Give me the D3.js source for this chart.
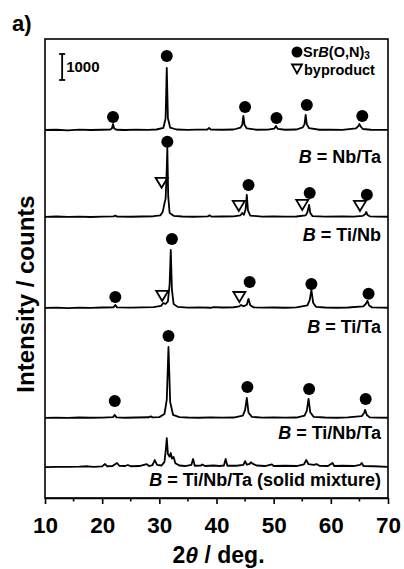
<!DOCTYPE html>
<html>
<head>
<meta charset="utf-8">
<script src="https://cdn.jsdelivr.net/npm/d3@7"></script>
<style>
  body { margin: 0; background: #fff; }
  svg { display: block; font-family: "Liberation Sans", Arial, sans-serif; font-weight: bold; }
</style>
</head>
<body>
<svg id="chart" width="404" height="569"></svg>
<script>
// XRD patterns, [2theta, counts above the pattern's own baseline]
const traceNbTa = [
  [10,0],[12,10],[14,-10],[16,15],[18,0],[20,10],[21.4,20],[21.7,60],[21.9,230],[22.1,60],[22.5,10],
  [24,0],[26,15],[28,5],[29.5,20],[30.7,80],[31.1,450],[31.3,2390],[31.5,450],[31.9,90],[33,20],
  [35,5],[36.5,15],[38.4,20],[38.7,80],[39.0,15],[41,10],[43,20],[44.2,90],[44.5,200],[44.7,540],
  [44.9,200],[45.3,60],[47,10],[49,15],[50.1,50],[50.4,155],[50.7,45],[52,10],[54,20],[55.1,100],
  [55.4,230],[55.6,580],[55.8,220],[56.2,70],[58,10],[60,15],[62,5],[64.4,60],[64.8,150],[65.0,230],
  [65.2,140],[65.6,40],[67,10],[70,5]
];
const traceTiNb = [
  [10,0],[12,15],[14,0],[16,10],[18,-5],[20,10],[22,20],[22.3,50],[22.6,10],[25,5],[27,15],[29,25],
  [30.2,60],[30.6,200],[30.9,520],[31.1,700],[31.25,1500],[31.4,2650],[31.55,800],[31.8,150],[32.5,40],
  [34,15],[36,5],[38.5,20],[38.8,60],[39.1,10],[41,15],[43,20],[44.2,60],[44.5,150],[44.8,80],
  [45.1,300],[45.3,850],[45.5,250],[45.9,50],[48,10],[50,20],[52,10],[54,15],[55.6,60],[55.9,180],
  [56.2,460],[56.4,150],[56.8,30],[59,10],[62,15],[64,10],[65.6,40],[66.0,100],[66.2,190],[66.4,80],
  [66.8,20],[68,10],[70,5]
];
const traceTiTa = [
  [10,0],[12,10],[14,-5],[16,10],[18,0],[20,15],[22.0,25],[22.3,115],[22.6,20],[25,10],[27,20],[29,30],
  [30.3,80],[30.7,190],[31.1,150],[31.5,250],[31.8,900],[32.0,2230],[32.2,700],[32.5,150],[33.2,40],
  [35,10],[37,20],[39,5],[39.5,30],[41,15],[43,25],[44.0,60],[44.3,110],[44.7,60],[45.3,120],
  [45.6,350],[45.9,100],[46.5,20],[48,10],[50,15],[52,5],[54,20],[55.9,100],[56.3,300],[56.6,690],
  [56.9,200],[57.4,40],[59,15],[61,5],[63,15],[65.7,60],[66.1,150],[66.4,270],[66.7,90],[67.2,20],
  [69,10],[70,5]
];
const traceTiNbTa = [
  [10,0],[12,10],[14,0],[16,15],[18,5],[20,10],[21.9,30],[22.2,115],[22.5,20],[24,5],[26,15],
  [28.2,25],[28.5,60],[28.8,20],[30,30],[30.9,150],[31.3,700],[31.6,2730],[31.9,600],[32.4,120],
  [33.5,30],[35,15],[37,5],[39,20],[41,10],[43,15],[44.6,90],[45.0,300],[45.3,770],[45.6,200],
  [46.2,40],[48,10],[50,20],[52,10],[54,15],[55.4,90],[55.8,280],[56.1,730],[56.4,220],[57.0,40],
  [59,15],[61,5],[63,20],[65.4,70],[65.8,180],[66.0,310],[66.3,110],[66.8,20],[68,10],[70,5]
];
const traceMixture = [
  [10,0],[12,10],[14,5],[16,15],[17.5,30],[18.5,10],[20,25],[20.5,115],[20.9,30],[21.8,40],[22.6,155],
  [23.0,50],[24,40],[24.5,80],[25,30],[26.5,40],[27.8,115],[28.2,40],[28.8,70],[29.2,270],[29.6,80],
  [30.4,60],[30.9,200],[31.15,700],[31.3,1115],[31.5,500],[31.8,400],[32.0,540],[32.2,330],[32.5,385],
  [32.8,150],[33.5,60],[34.5,40],[35.6,80],[35.9,310],[36.2,50],[37.3,60],[37.5,100],[38,40],[39.5,60],
  [40.5,40],[41.3,60],[41.6,310],[41.9,50],[43.5,50],[44.7,80],[45.0,230],[45.3,90],[45.8,120],
  [46.0,190],[46.3,130],[47,60],[48.5,40],[49.7,100],[50,40],[52,50],[54,40],[55.3,100],[55.7,270],
  [56.1,110],[57.0,80],[57.5,115],[58,50],[59.5,40],[60.3,155],[60.6,40],[62,50],[64,40],[65.1,80],
  [65.4,155],[65.7,40],[67.5,30],[70,10]
];

// vertical offset (counts) of each pattern's baseline
const traceOffsets = [14150, 10810, 7310, 3080, 1190];
const traceNames = ["Nb/Ta", "Ti/Nb", "Ti/Ta", "Ti/Nb/Ta", "Ti/Nb/Ta (solid mixture)"];

// peak markers [2theta, counts above baseline]
const dotsNbTa = [[21.9,500],[31.3,2850],[45.0,885],[50.5,460],[55.8,960],[65.5,540]];
const dotsTiNb = [[31.4,2890],[45.6,1230],[56.3,920],[66.3,850]];
const triTiNb = [[30.4,1310],[43.9,420],[55.0,460],[65.1,420]];
const dotsTiTa = [[22.3,420],[32.2,2650],[45.8,1000],[56.6,920],[66.6,540]];
const triTiTa = [[30.5,460],[44.0,420]];
const dotsTiNbTa = [[22.2,650],[31.6,3150],[45.4,1190],[56.2,1115],[66.1,730]];

const xTicks = [10, 20, 30, 40, 50, 60, 70];
const xMinorTicks = [15, 25, 35, 45, 55, 65];
const scaleBarCounts = 1000;

const traces = [traceNbTa, traceTiNb, traceTiTa, traceTiNbTa, traceMixture];
const dotSets = [dotsNbTa, dotsTiNb, dotsTiTa, dotsTiNbTa, []];
const triSets = [[], triTiNb, triTiTa, [], []];

// layout
const margin = { top: 39, right: 16, bottom: 71, left: 45 };
const W = 404, H = 569;
const labelDy = [33, 24, 25, 21, 19];

const svg = d3.select("#chart");

const x = d3.scaleLinear().domain([10, 70]).range([margin.left, W - margin.right]);
const y = d3.scaleLinear().domain([0, 17650]).range([H - margin.bottom, margin.top]);

const line = d3.line()
  .x(d => x(d[0]))
  .y(d => d[1]);

// patterns
traces.forEach((t, i) => {
  svg.append("path")
    .attr("d", line(t.map(p => [p[0], y(p[1] + traceOffsets[i])])))
    .attr("fill", "none")
    .attr("stroke", "#000")
    .attr("stroke-width", 1.8)
    .attr("stroke-linejoin", "round");

  const label = svg.append("text")
    .attr("x", 381)
    .attr("y", y(traceOffsets[i]) + labelDy[i])
    .attr("text-anchor", "end")
    .style("font-size", "18px");
  label.append("tspan").style("font-style", "italic").text("B");
  label.append("tspan").text(" = " + traceNames[i]);
});

// markers
dotSets.forEach((set, i) => {
  svg.selectAll(null)
    .data(set)
    .enter()
    .append("circle")
    .attr("cx", d => x(d[0]))
    .attr("cy", d => y(d[1] + traceOffsets[i]))
    .attr("r", 6)
    .attr("fill", "#000");
});

const triPath = "M-6,-5 L6,-5 L0,5 Z";
triSets.forEach((set, i) => {
  svg.selectAll(null)
    .data(set)
    .enter()
    .append("path")
    .attr("d", triPath)
    .attr("transform", d => `translate(${x(d[0])},${y(d[1] + traceOffsets[i])})`)
    .attr("fill", "none")
    .attr("stroke", "#000")
    .attr("stroke-width", 1.8);
});

// frame
svg.append("rect")
  .attr("x", x(10))
  .attr("y", margin.top)
  .attr("width", x(70) - x(10))
  .attr("height", y(0) - margin.top)
  .attr("fill", "none")
  .attr("stroke", "#000")
  .attr("stroke-width", 1.6);

// x axis
const xAxis = svg.append("g")
  .attr("transform", `translate(0,${y(0)})`)
  .call(d3.axisBottom(x).tickValues(xTicks).tickSize(6).tickSizeOuter(0).tickPadding(13));
xAxis.select(".domain").attr("stroke-width", 1.6);
xAxis.selectAll(".tick line").attr("stroke-width", 1.6);
xAxis.selectAll(".tick text")
  .style("font-size", "22.5px")
  .style("font-family", "'Liberation Sans', Arial, sans-serif")
  .style("font-weight", "bold")
  .attr("fill", "#000");

svg.append("g")
  .selectAll("line")
  .data(xMinorTicks)
  .enter()
  .append("line")
  .attr("x1", d => x(d))
  .attr("x2", d => x(d))
  .attr("y1", y(0))
  .attr("y2", y(0) + 3.5)
  .attr("stroke", "#000")
  .attr("stroke-width", 1.6);

// axis titles
const xTitle = svg.append("text")
  .attr("x", (x(10) + x(70)) / 2 + 2)
  .attr("y", 563)
  .attr("text-anchor", "middle")
  .style("font-size", "23px");
xTitle.append("tspan").text("2");
xTitle.append("tspan").style("font-style", "italic").text("θ");
xTitle.append("tspan").text(" / deg.");

svg.append("text")
  .attr("transform", "translate(34,294) rotate(-90)")
  .attr("text-anchor", "middle")
  .style("font-size", "24px")
  .text("Intensity / counts");

// panel label
svg.append("text")
  .attr("x", 12)
  .attr("y", 31)
  .style("font-size", "22px")
  .text("a)");

// scale bar
const barX = x(13);
const barBottom = 80;
const barTop = barBottom - (y(0) - y(scaleBarCounts));
const bar = svg.append("g").attr("stroke", "#000").attr("stroke-width", 1.8);
bar.append("line").attr("x1", barX).attr("x2", barX).attr("y1", barTop).attr("y2", barBottom);
bar.append("line").attr("x1", barX - 3).attr("x2", barX + 3).attr("y1", barTop).attr("y2", barTop);
bar.append("line").attr("x1", barX - 3).attr("x2", barX + 3).attr("y1", barBottom).attr("y2", barBottom);
svg.append("text")
  .attr("x", barX + 4)
  .attr("y", (barTop + barBottom) / 2 + 5.5)
  .style("font-size", "15px")
  .text(scaleBarCounts);

// legend
const legX = 297;
svg.append("circle").attr("cx", legX).attr("cy", 52).attr("r", 5.5).attr("fill", "#000");
const leg1 = svg.append("text").attr("x", legX + 6).attr("y", 57).style("font-size", "14.5px");
leg1.append("tspan").text("Sr");
leg1.append("tspan").style("font-style", "italic").text("B");
leg1.append("tspan").text("(O,N)");
leg1.append("tspan").attr("dy", 2).style("font-size", "10px").text("3");
svg.append("path")
  .attr("d", "M-5,-4.5 L5,-4.5 L0,4.5 Z")
  .attr("transform", `translate(${legX},69)`)
  .attr("fill", "none")
  .attr("stroke", "#000")
  .attr("stroke-width", 1.8);
svg.append("text").attr("x", legX + 7).attr("y", 75).style("font-size", "14.5px").text("byproduct");
</script>
</body>
</html>
